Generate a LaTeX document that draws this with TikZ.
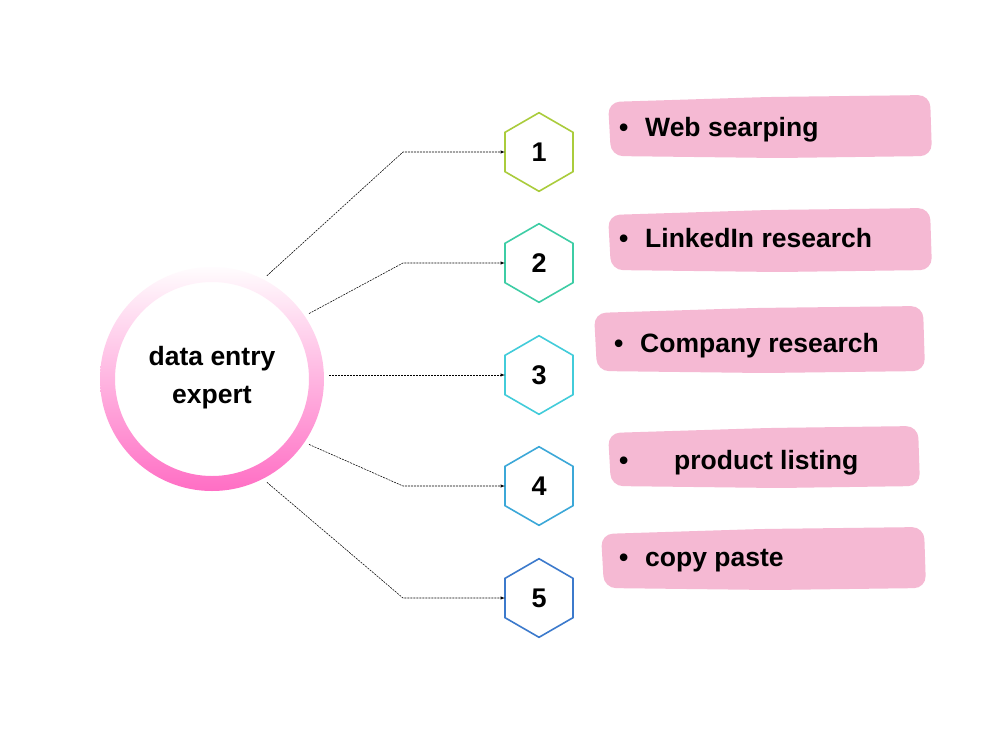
\documentclass[tikz,border=0pt]{standalone}
\usepackage{fontspec}
\setmainfont{Liberation Sans}
\usepackage{tikz}
\usetikzlibrary{shapes.geometric}
\usetikzlibrary{calc}

\definecolor{ringpink}{RGB}{255,110,196}
\definecolor{brushpink}{RGB}{245,185,211}
\definecolor{hexA}{RGB}{170,204,60}
\definecolor{hexB}{RGB}{62,205,165}
\definecolor{hexC}{RGB}{66,204,218}
\definecolor{hexD}{RGB}{60,168,216}
\definecolor{hexE}{RGB}{60,122,204}

\tikzset{
    hexnode/.style = {regular polygon, regular polygon sides = 6, shape border rotate = 30,
                      minimum size = 78.6pt, inner sep = 0pt, outer sep = 0pt, line width = 1.6pt,
                      font = \fontsize{27}{27}\selectfont\bfseries},
    brush/.style = {fill = brushpink, rounded corners = 12pt},
    itemtext/.style = {anchor = base west, inner sep = 0pt, font = \fontsize{26.5}{26.5}\selectfont\bfseries},
    link/.style = {->, line width = .55pt, dash pattern = on 2pt off 1pt}
}

\begin{document}
\begin{tikzpicture}[>=latex,
                    x = 1pt,
                    y = -1pt]
            % Fix the canvas:
            \fill [white] (0,0) rectangle (1000,750);
            \useasboundingbox (0,0) rectangle (1000,750);

            % Draw the hub with its gradient ring:
            \node [circle, minimum size = 234pt, inner sep = 0pt, outer sep = 0pt] (hub) at (212,379) {};
            \path [even odd rule, top color = ringpink!2, middle color = ringpink!28, bottom color = ringpink]
                (hub.center) circle (112) (hub.center) circle (97);
            \node [align = center, font = \fontsize{26.5}{38}\selectfont\bfseries] (hubtext) at (212,378) {data entry\\expert};

            % Draw the pink brush strokes:
            \foreach \xa/\xb/\ya/\yb in {608/932/95/158, 608/932/208/272, 594/925/306/373, 608/920/426/488, 601/926/527/590} {
                \path [brush] (\xa,\ya+7) -- (\xa+160,\ya+2) -- (\xb-2,\ya) -- (\xb,\yb-2)
                    -- (\xa+170,\yb) -- (\xa+3,\yb-2) -- cycle;
            }

            % Draw the numbered hexagons and the items:
            \foreach \index/\ypos/\col/\bx/\tx/\base/\label in {1/152/hexA/619/645/136/Web searping,
                                                          2/263/hexB/619/645/247/LinkedIn research,
                                                          3/375/hexC/614/640/352/Company research,
                                                          4/486/hexD/619/674/469/product listing,
                                                          5/598/hexE/619/645/566/copy paste} {
                \node [hexnode, draw = \col] (h\index) at (539,\ypos) {\index};
                \node [itemtext] (b\index) at (\bx,\base) {\textbullet};
                \node [itemtext] (t\index) at (\tx,\base) {\label};
            }

            % Draw the connectors:
            \coordinate (knee) at (403,0);
            \draw [link] (hub.62) -- (h1.west -| knee) -- (h1.west);
            \draw [link] (hub.34) -- (h2.west -| knee) -- (h2.west);
            \draw [link] (h3.west -| hub.east) -- (h3.west);
            \draw [link] (hub.-34) -- (h4.west -| knee) -- (h4.west);
            \draw [link] (hub.-62) -- (h5.west -| knee) -- (h5.west);
        \end{tikzpicture}
\end{document}
